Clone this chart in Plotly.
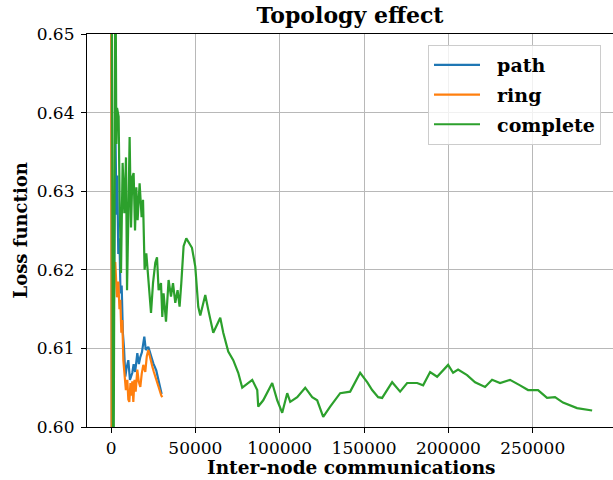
import plotly.graph_objects as go

# ---- data ----
path_x = [0, 500, 2600, 3200, 3700, 4300, 5000, 5600, 6300, 7000, 7700, 8470, 9200,
          10250, 11200, 12620, 13400, 14300, 15580, 16500, 17360, 18300, 19730, 20600,
          22100, 23300, 25060, 26800, 28000, 29200, 30000]
path_y = [0.70, 0.585, 0.638, 0.627, 0.632, 0.622, 0.624, 0.617, 0.618, 0.612, 0.610,
          0.6064, 0.6075, 0.6085, 0.6060, 0.6069, 0.6080, 0.6070, 0.6094, 0.6080, 0.6089,
          0.6095, 0.6115, 0.6098, 0.6102, 0.6092, 0.6081, 0.6072, 0.6060, 0.6051, 0.6042]

ring_x = [0, 400, 1100, 2500, 3500, 4320, 5000, 5510, 6100, 6690, 7290, 8000, 8800,
          9660, 10250, 10840, 11500, 12000, 12620, 13210, 13900, 14600, 15580, 16400,
          17360, 18200, 19140, 20300, 21200, 22100, 23300, 24470, 25400, 26240, 27100,
          28020, 29000, 29800, 30400]
ring_y = [0.70, 0.58, 0.6195, 0.621, 0.6165, 0.6185, 0.6150, 0.6162, 0.6120, 0.6136,
          0.6085, 0.6070, 0.6047, 0.6060, 0.6035, 0.6032, 0.6056, 0.6040, 0.6058, 0.6032,
          0.6060, 0.6045, 0.6073, 0.6058, 0.6051, 0.6068, 0.6079, 0.6070, 0.6090, 0.6098,
          0.6085, 0.6077, 0.6070, 0.6064, 0.6058, 0.6050, 0.6044, 0.6040, 0.6038]

complete_x = [0, 1300, 2600, 3140, 3550, 4500, 5100, 5900, 6870, 7880, 8870, 9480,
              10250, 11020, 11850, 12620, 13390, 14220, 14990, 15760, 16940, 18130,
              18960, 19910, 20910, 22280, 23700, 24880, 26240, 27250, 28200, 29620,
              30390, 31160, 32580, 34120, 35540, 36730, 38090, 39450, 40640, 41650,
              43010, 44610, 45970, 47980, 49940, 51710, 52900, 55860, 57640, 60600,
              64750, 66530, 69490, 72450, 75410, 77780, 83700, 86670, 87260, 90220,
              95550, 98520, 101480, 104440, 106220, 110370, 115110, 119250, 122210,
              125770, 129910, 135840, 141760, 147680, 151830, 154790, 158350, 160720,
              166640, 171380, 175530, 181450, 185010, 189150, 193300, 199820, 202780,
              205740, 211070, 215810, 221730, 225880, 230620, 236550, 242470, 247210,
              253130, 258460, 263200, 267940, 276240, 283930, 285200]
complete_y = [0.70, 0.58, 0.662, 0.636, 0.6406, 0.6395, 0.6288, 0.6196, 0.6336, 0.6272,
              0.6343, 0.6174, 0.6267, 0.6369, 0.6254, 0.6318, 0.6323, 0.6250, 0.6305,
              0.6263, 0.6310, 0.6267, 0.6289, 0.6200, 0.6221, 0.6178, 0.6145, 0.6183,
              0.6209, 0.6216, 0.6174, 0.6183, 0.6140, 0.6170, 0.6134, 0.6187, 0.6166,
              0.6183, 0.6158, 0.6174, 0.6153, 0.6183, 0.6230, 0.6240, 0.6235, 0.6228,
              0.6204, 0.6153, 0.6142, 0.6168, 0.6149, 0.6120, 0.6139, 0.6120, 0.6096,
              0.6085, 0.6069, 0.6050, 0.6060, 0.6047, 0.6026, 0.6034, 0.6056, 0.6034,
              0.6018, 0.6043, 0.6032, 0.6038, 0.6050, 0.6038, 0.6034, 0.6013, 0.6026,
              0.6043, 0.6045, 0.6069, 0.6057, 0.6047, 0.6038, 0.6037, 0.6057, 0.6045,
              0.6056, 0.6056, 0.6053, 0.6070, 0.6064, 0.6079, 0.6069, 0.6073, 0.6066,
              0.6057, 0.6051, 0.6060, 0.6056, 0.6060, 0.6053, 0.6047, 0.6047, 0.6037,
              0.6038, 0.6031, 0.6024, 0.6022, 0.6021]

x_ticks = [0, 50000, 100000, 150000, 200000, 250000]
y_ticks = [0.60, 0.61, 0.62, 0.63, 0.64, 0.65]

FONT = "DejaVu Serif"

fig = go.Figure()
for name, xs, ys, col in [("path", path_x, path_y, "#1f77b4"),
                          ("ring", ring_x, ring_y, "#ff7f0e"),
                          ("complete", complete_x, complete_y, "#2ca02c")]:
    fig.add_trace(go.Scatter(x=xs, y=ys, mode="lines",
                             name="&nbsp;&nbsp;<b>%s</b>" % name,
                             legendgroup=name,
                             line=dict(color=col, width=2.2)))

fig.update_layout(
    width=613, height=480,
    margin=dict(l=87, r=0, t=34, b=53),
    paper_bgcolor="white", plot_bgcolor="white",
    font=dict(family=FONT, size=17, color="black"),
    title=dict(text="<b>Topology effect</b>", x=0.5, xref="paper",
               y=1 - 15 / 480, yref="container", yanchor="middle",
               font=dict(family=FONT, size=22, color="black")),
    showlegend=True,
    legend=dict(x=(428 - 87) / 526, y=1 - (45 - 34) / 393, xanchor="left", yanchor="top",
                bgcolor="rgba(255,255,255,0.8)", bordercolor="#cccccc", borderwidth=1,
                font=dict(family=FONT, size=19, color="black"),
                itemwidth=46, tracegroupgap=2),
    xaxis=dict(range=[-14250, 297570], tickvals=x_ticks,
               ticktext=[str(v) for v in x_ticks],
               showgrid=True, gridcolor="#b8b8b8", gridwidth=1.2,
               showline=True, linecolor="black", linewidth=1.2, mirror=True,
               ticks="outside", ticklen=5, tickwidth=1.2, tickcolor="black",
               zeroline=False, tickfont=dict(family=FONT, size=17)),
    yaxis=dict(range=[0.60, 0.65], tickvals=y_ticks,
               ticktext=["%.2f" % v for v in y_ticks],
               showgrid=True, gridcolor="#b8b8b8", gridwidth=1.2,
               showline=True, linecolor="black", linewidth=1.2,
               ticks="outside", ticklen=5, tickwidth=1.2, tickcolor="black",
               ticklabelstandoff=3,
               zeroline=False, tickfont=dict(family=FONT, size=17)),
    annotations=[
        dict(text="<b>Inter-node communications</b>", xref="paper", yref="paper",
             x=(351 - 87) / 526, y=(427 - 467) / 393, xanchor="center", yanchor="middle",
             showarrow=False, font=dict(family=FONT, size=18.5, color="black")),
        dict(text="<b>Loss function</b>", xref="paper", yref="paper",
             x=(20 - 87) / 526, y=0.5, xanchor="center", yanchor="middle",
             textangle=-90, showarrow=False,
             font=dict(family=FONT, size=18, color="black")),
    ],
)

fig.write_html("out.html", config={"displayModeBar": False},
               post_script="document.body.style.margin='0';document.body.style.overflow='hidden';")
